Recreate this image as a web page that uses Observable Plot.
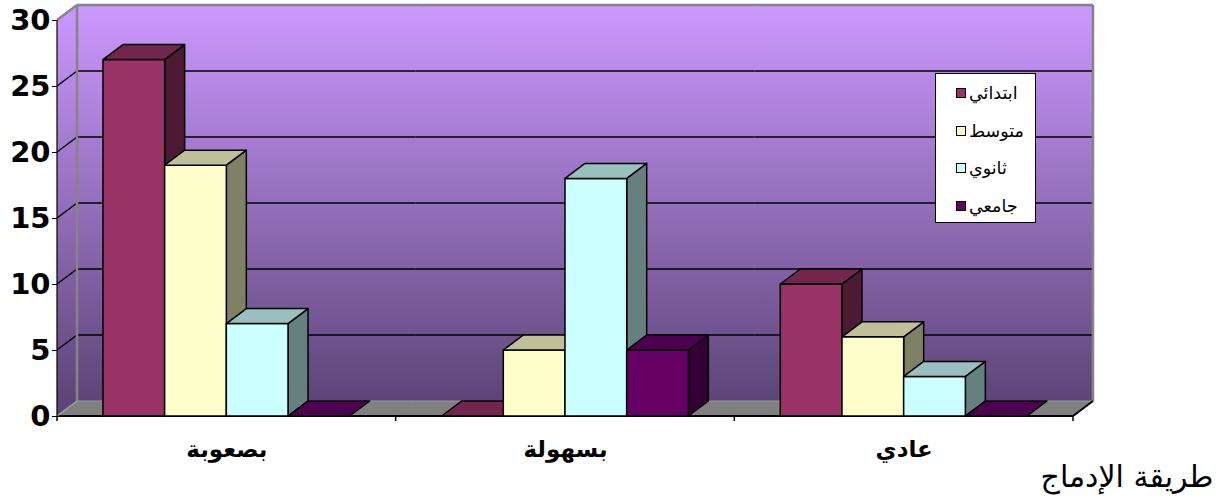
<!DOCTYPE html>
<html><head><meta charset="utf-8">
<script src="https://cdn.jsdelivr.net/npm/d3@7"></script>
<script src="https://cdn.jsdelivr.net/npm/@observablehq/plot@0.6"></script>
<style>
html,body{margin:0;padding:0;background:#fff;}
#wrap{position:relative;width:1217px;height:497px;overflow:hidden;}
#legend{position:absolute;left:935px;top:73px;width:101px;height:150px;background:#fff;border:1.5px solid #000;box-sizing:border-box;font-family:"DejaVu Sans",sans-serif;font-size:17.5px;color:#000;}
.row{position:absolute;left:0;display:flex;align-items:center;height:22px;}
.sw{width:8px;height:8px;border:1.5px solid #000;margin-left:20px;margin-right:3px;flex:none;}
</style></head><body><div id="wrap"><div id="legend"></div></div>
<script>
const categories = ["بصعوبة", "بسهولة", "عادي"];
const series = ["ابتدائي", "متوسط", "ثانوي", "جامعي"];
const ibtidai = [27, 0, 10];
const mutawassit = [19, 5, 6];
const thanawi = [7, 18, 3];
const jamii = [0, 5, 0];
const seriesColors = ["#993366", "#FFFFCC", "#CCFFFF", "#660066"];
const yTicks = [0, 5, 10, 15, 20, 25, 30];
const axisTitle = "طريقة الإدماج";

const seriesValues = [ibtidai, mutawassit, thanawi, jamii];
const rows = [];
categories.forEach((c, ci) => series.forEach((s, si) => rows.push({cat: c, series: s, value: seriesValues[si][ci]})));

const DX = 20, DY = -15;
const PAD_OUTER = 0.745;
const shade = (c, k) => { const r = d3.rgb(c); return d3.rgb(r.r * k, r.g * k, r.b * k).formatHex(); };
const colorOf = s => seriesColors[series.indexOf(s)];

function drawWall(g, fi, sy, x0, W) {
  const yB = sy(0), yT = sy(yTicks[yTicks.length - 1]);
  const first = fi === 0, last = fi === categories.length - 1;
  const line = (x1, y1, x2, y2, stroke, w) => g.append("line").attr("x1", x1).attr("y1", y1).attr("x2", x2).attr("y2", y2).attr("stroke", stroke).attr("stroke-width", w);
  const id = "wallgrad" + fi;
  const grad = g.append("defs").append("linearGradient").attr("id", id).attr("gradientUnits", "userSpaceOnUse")
    .attr("x1", 0).attr("x2", 0).attr("y1", yT + DY).attr("y2", yB + DY);
  grad.append("stop").attr("offset", 0).attr("stop-color", "#CC99FF");
  grad.append("stop").attr("offset", 1).attr("stop-color", "#5C4577");
  const ext = last ? 0 : 1;
  g.append("rect").attr("x", x0 + DX).attr("y", yT + DY).attr("width", W + ext).attr("height", yB - yT).attr("fill", `url(#${id})`).attr("stroke", "none");
  if (first) {
    g.append("path").attr("d", `M${x0},${yT}L${x0 + DX},${yT + DY}L${x0 + DX},${yB + DY}L${x0},${yB}Z`).attr("fill", `url(#${id})`).attr("stroke", "none");
  }
  g.append("path").attr("d", `M${x0},${yB}L${x0 + W + ext},${yB}L${x0 + W + ext + DX},${yB + DY}L${x0 + DX},${yB + DY}Z`).attr("fill", "#808080").attr("stroke", "none");
  for (const t of yTicks) {
    if (t <= yTicks[0] || t >= yTicks[yTicks.length - 1]) continue;
    const y = sy(t);
    line(x0 + DX, y + DY, x0 + W + ext + DX, y + DY, "#000", 1.5);
    if (first) line(x0, y, x0 + DX, y + DY, "#000", 1.5);
  }
  line(x0 + DX, yT + DY, x0 + W + ext + DX, yT + DY, "#858585", 2.5);
  line(x0 + DX, yB + DY, x0 + W + ext + DX, yB + DY, "#9a9a9a", 1.2);
  line(x0, yB, x0 + W + ext, yB, "#000", 2);
  line(x0, yB, x0, yB + 5, "#000", 1.5);
  if (first) {
    line(x0 + DX, yT + DY, x0 + DX, yB + DY, "#858585", 2.5);
    line(x0, yT, x0 + DX, yT + DY, "#858585", 2.5);
    line(x0, yB, x0 + DX, yB + DY, "#a0a0a0", 1.5);
    line(x0, yT, x0, yB, "#000", 1.2);
  }
  if (last) {
    line(x0 + W + DX, yT + DY, x0 + W + DX, yB + DY, "#858585", 2.5);
    line(x0 + W, yB, x0 + W + DX, yB + DY, "#000", 2);
    line(x0 + W, yB, x0 + W, yB + 5, "#000", 1.5);
  }
}

function barsRender(index, scales, values, dims) {
  const sx = scales.x, sy = scales.y;
  let bw = typeof sx.bandwidth === "function" ? sx.bandwidth() : sx.bandwidth;
  if (!(bw > 0)) bw = sx(series[1]) - sx(series[0]);
  const y0 = sy(0);
  const root = d3.create("svg:g");
  if (index.length) {
    const fi = categories.indexOf(rows[index[0]].cat);
    const x0 = sx(series[0]) - PAD_OUTER * bw;
    const W = bw * (series.length + 2 * PAD_OUTER);
    drawWall(root.append("g"), fi, sy, x0, W);
  }
  const g = root.append("g").attr("stroke", "#000").attr("stroke-width", 1.5).attr("stroke-linejoin", "round");
  for (const i of index) {
    const d = rows[i];
    const x = sx(d.series), yt = sy(d.value);
    const c = (values.fill && values.fill[i]) || colorOf(d.series);
    if (y0 - yt > 0.1) {
      g.append("path").attr("d", `M${x + bw},${yt}L${x + bw + DX},${yt + DY}L${x + bw + DX},${y0 + DY}L${x + bw},${y0}Z`).attr("fill", shade(c, 0.5));
      g.append("rect").attr("x", x).attr("y", yt).attr("width", bw).attr("height", y0 - yt).attr("fill", c);
    }
    g.append("path").attr("d", `M${x},${yt}L${x + bw},${yt}L${x + bw + DX},${yt + DY}L${x + DX},${yt + DY}Z`).attr("fill", shade(c, 0.75));
  }
  return root.node();
}

const chart = Plot.plot({
  width: 1217,
  height: 497,
  marginLeft: 57,
  marginRight: 144,
  marginTop: 20,
  marginBottom: 81,
  style: {fontFamily: "'DejaVu Sans', sans-serif", background: "white", overflow: "visible"},
  fx: {domain: categories, padding: 0, round: false, label: null},
  x: {domain: series, paddingInner: 0, paddingOuter: PAD_OUTER, round: false, axis: null},
  y: {domain: [0, 30], label: null},
  color: {domain: series, range: seriesColors},
  marks: [
    Plot.barY(rows, {fx: "cat", x: "series", y: "value", fill: "series", render: barsRender}),
    Plot.axisY({ticks: yTicks, tickSize: 5, tickPadding: 2, fontSize: 29, fontWeight: "bold", fontFamily: "'DejaVu Sans', sans-serif", label: null, stroke: "#000"}),
    Plot.axisFx({anchor: "bottom", tickSize: 0, tickPadding: 24, fontSize: 23, fontWeight: "bold", fontFamily: "'DejaVu Sans', sans-serif", label: null}),
    Plot.text([axisTitle], {fx: () => categories[categories.length - 1], frameAnchor: "bottom-right", text: d => d, textAnchor: "end", lineAnchor: "middle", dx: 140, dy: 61, fontSize: 30, fontFamily: "'DejaVu Sans', sans-serif", fill: "#000"})
  ]
});
document.getElementById("wrap").prepend(chart);

const legend = document.getElementById("legend");
const rowCenters = [19, 57, 94, 132];
series.forEach((s, i) => {
  const r = document.createElement("div");
  r.className = "row";
  r.style.top = (rowCenters[i] - 11) + "px";
  const sw = document.createElement("div");
  sw.className = "sw";
  sw.style.background = seriesColors[i];
  const t = document.createElement("span");
  t.textContent = s;
  r.append(sw, t);
  legend.append(r);
});
</script></body></html>
